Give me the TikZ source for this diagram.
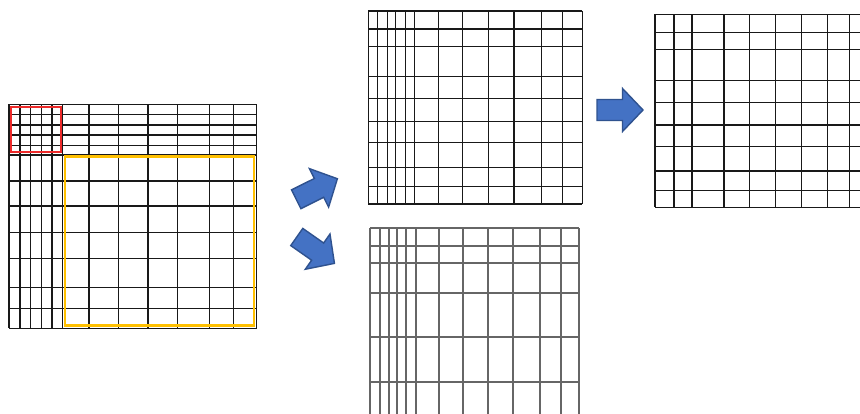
\documentclass[tikz,border=0pt]{standalone}
\begin{document}
\begin{tikzpicture}[x=1pt,y=-1pt,
  gridline/.style={draw=black!90,line width=1.2pt},
  blurline/.style={draw=black!60,line width=1.7pt},
  bluearrow/.style={fill=arrowfill,draw=arrowedge,line width=1.4pt,line join=miter}]
\definecolor{arrowfill}{HTML}{4472C4}
\definecolor{arrowedge}{HTML}{2F528F}
\definecolor{hiyellow}{HTML}{FFC000}
\definecolor{hired}{HTML}{EE2A2A}
\useasboundingbox[fill=white] (0,0) rectangle (860,414);

% ---- left grid ----
\foreach \x in {9,20,30.7,41.3,52,62.7,89,118.3,148,177.7,209.3,233.3,256.7}
  \draw[gridline] (\x,104.3) -- (\x,328.3);
\foreach \y in {104.3,114.3,125,135,145.7,155,181,206,232.7,258.3,287.3,308.3,328.3}
  \draw[gridline] (9,\y) -- (256.7,\y);
\draw[hired,line width=2pt] (11,106.7) rectangle (60.7,151.7);
\draw[hiyellow,line width=2.8pt] (65,156.7) rectangle (254,325.7);

% ---- top middle grid ----
\foreach \x in {368.3,377.3,387.3,395.7,405.3,414.7,438.3,462.7,488.3,514,541.7,562.7,582.3}
  \draw[gridline] (\x,11) -- (\x,204);
\foreach \y in {11,29,46.7,76.7,98.3,121.7,142.3,167.3,186.7,204}
  \draw[gridline] (368.3,\y) -- (582.3,\y);

% ---- bottom middle grid (blurred) ----
\foreach \x in {370,380,388.7,397.3,406,416,439,462.7,487.7,513.3,540,560.7,579.3}
  \draw[blurline] (\x,228.3) -- (\x,414);
\foreach \y in {228.3,246,263.3,292.7,337.3,382.3}
  \draw[blurline] (370,\y) -- (579.3,\y);

% ---- right grid ----
\foreach \x in {655,674,692,724,749.3,775.3,801.3,827.3,849.3}
  \draw[gridline] (\x,14.3) -- (\x,207.3);
\foreach \y in {14.3,32.3,49.3,80.7,102.3,125,146.7,171,190.3,207.3}
  \draw[gridline] (655,\y) -- (860,\y);

% ---- block arrows ----
\foreach \cx/\cy/\ang/\nm in {316.8/189/26.5/up, 315.6/250.2/-35/down, 620/110/0/right}{
  \begin{scope}[shift={(\cx,\cy)},rotate=\ang]
    \coordinate (arrow-\nm) at (0,0);
    \draw[bluearrow] (-23,-10.5) -- (2.5,-10.5) -- (2.5,-21.5) -- (23,0)
      -- (2.5,21.5) -- (2.5,10.5) -- (-23,10.5) -- cycle;
  \end{scope}
}
\end{tikzpicture}
\end{document}
